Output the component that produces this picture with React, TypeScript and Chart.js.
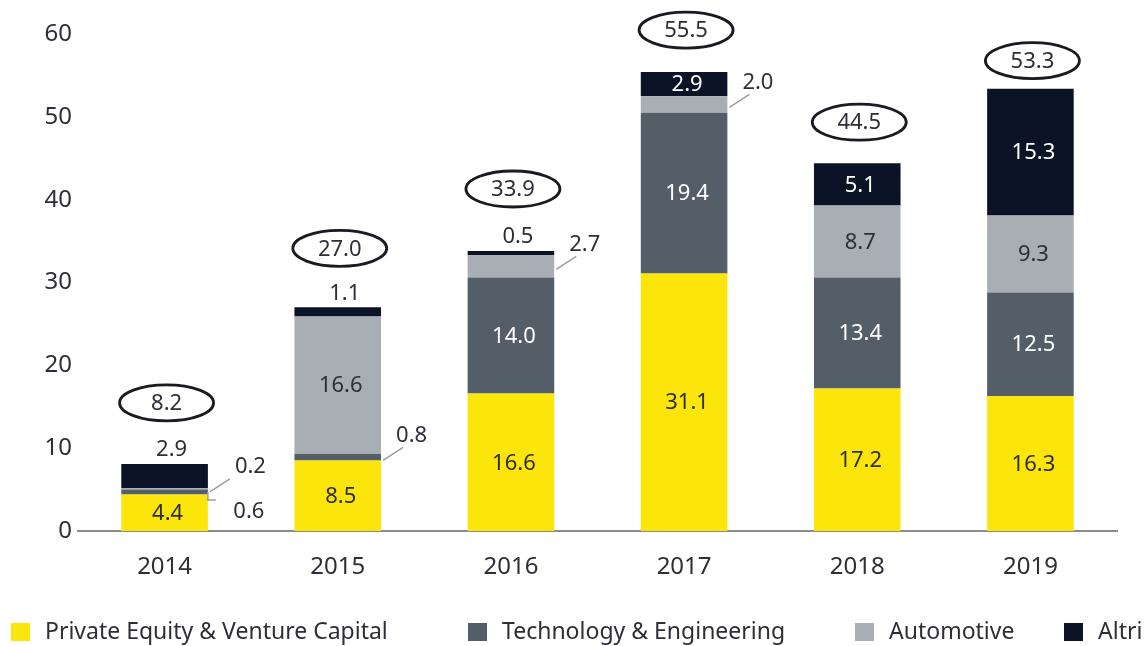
import React, { useEffect, useRef } from 'react';
import { Chart, registerables } from 'chart.js';

Chart.register(...registerables);

const years = ['2014', '2015', '2016', '2017', '2018', '2019'];
const seriesNames = ['Private Equity & Venture Capital', 'Technology & Engineering', 'Automotive', 'Altri'];
const privateEquity = [4.4, 8.5, 16.6, 31.1, 17.2, 16.3];
const techEng = [0.6, 0.8, 14.0, 19.4, 13.4, 12.5];
const automotive = [0.2, 16.6, 2.7, 2.0, 8.7, 9.3];
const altri = [2.9, 1.1, 0.5, 2.9, 5.1, 15.3];
const totals = [8.2, 27.0, 33.9, 55.5, 44.5, 53.3];
const yTicks = [0, 10, 20, 30, 40, 50, 60];

const FONT = '"Noto Sans", sans-serif';
const DARK = '#2e2e38';
const COLORS = ['#FBE50B', '#545E69', '#A8AEB4', '#0A1426'];
const TEXT_ON = [DARK, '#ffffff', DARK, '#ffffff'];

// which small segments are labelled outside the bar, and how
const callouts: { ds: number; i: number; kind: 'diag' | 'elbow' | 'top'; dx?: number }[] = [
  { ds: 2, i: 0, kind: 'diag', dx: 12 },
  { ds: 1, i: 0, kind: 'elbow' },
  { ds: 3, i: 0, kind: 'top' },
  { ds: 1, i: 1, kind: 'diag' },
  { ds: 3, i: 1, kind: 'top' },
  { ds: 2, i: 2, kind: 'diag' },
  { ds: 3, i: 2, kind: 'top' },
  { ds: 2, i: 3, kind: 'diag' },
];
const ellipseLift = [61, 59, 62, 42, 41, 28];

const labelsPlugin = {
  id: 'segLabels',
  afterDatasetsDraw(chart: any) {
    const ctx = chart.ctx;
    ctx.save();
    ctx.textBaseline = 'middle';
    ctx.font = `22px ${FONT}`;
    chart.data.datasets.forEach((ds: any, d: number) => {
      const meta = chart.getDatasetMeta(d);
      meta.data.forEach((el: any, i: number) => {
        const v = ds.data[i];
        const txt = v.toFixed(1);
        const top = Math.min(el.y, el.base);
        const bot = Math.max(el.y, el.base);
        const yc = (top + bot) / 2;
        const right = el.x + el.width / 2;
        const co = callouts.find((c) => c.ds === d && c.i === i);
        if (!co) {
          ctx.fillStyle = TEXT_ON[d];
          ctx.textAlign = 'center';
          ctx.fillText(txt, el.x + 3, yc + 1);
          return;
        }
        ctx.fillStyle = DARK;
        ctx.strokeStyle = '#9a9ea4';
        ctx.lineWidth = 1.5;
        if (co.kind === 'top') {
          ctx.textAlign = 'center';
          ctx.fillText(txt, el.x + 7, top - 14);
        } else if (co.kind === 'diag') {
          ctx.beginPath();
          ctx.moveTo(right + 2, yc + 3);
          ctx.lineTo(right + 22, yc - 10);
          ctx.stroke();
          ctx.textAlign = 'left';
          ctx.fillText(txt, right + 15 + (co.dx || 0), yc - 22);
        } else {
          ctx.beginPath();
          ctx.moveTo(right, yc);
          ctx.lineTo(right, yc + 8);
          ctx.lineTo(right + 8, yc + 8);
          ctx.stroke();
          ctx.textAlign = 'center';
          ctx.fillText(txt, right + 41, yc + 20);
        }
      });
    });
    // totals in ellipses
    const lastMeta = chart.getDatasetMeta(chart.data.datasets.length - 1);
    lastMeta.data.forEach((el: any, i: number) => {
      const top = Math.min(el.y, el.base);
      const cx = el.x + 2;
      const cy = top - ellipseLift[i];
      ctx.beginPath();
      ctx.ellipse(cx, cy, 47, 18, 0, 0, Math.PI * 2);
      ctx.lineWidth = 2.8;
      ctx.strokeStyle = '#1a1a22';
      ctx.stroke();
      ctx.fillStyle = DARK;
      ctx.textAlign = 'center';
      ctx.fillText(totals[i].toFixed(1), cx, cy + 1);
    });
    ctx.restore();
  },
};

const legendX = [11, 468, 855, 1064];
const legendPlugin = {
  id: 'customLegend',
  afterDraw(chart: any) {
    const ctx = chart.ctx;
    ctx.save();
    ctx.font = `23px ${FONT}`;
    ctx.textBaseline = 'middle';
    ctx.textAlign = 'left';
    chart.data.datasets.forEach((ds: any, d: number) => {
      const x = legendX[d];
      ctx.fillStyle = ds.backgroundColor;
      ctx.fillRect(x, 623, 19, 18);
      ctx.fillStyle = DARK;
      ctx.fillText(ds.label, x + 34, 632);
    });
    ctx.restore();
  },
};

export default function App() {
  const ref = useRef<HTMLCanvasElement>(null);
  useEffect(() => {
    document.body.style.margin = '0';
    const values = [privateEquity, techEng, automotive, altri];
    const chart = new Chart(ref.current as HTMLCanvasElement, {
      type: 'bar',
      data: {
        labels: years,
        datasets: values.map((arr, d) => ({
          label: seriesNames[d],
          data: arr,
          backgroundColor: COLORS[d],
          borderWidth: 0,
          barPercentage: 1,
          categoryPercentage: 0.5,
        })),
      },
      options: {
        animation: false,
        responsive: false,
        layout: { padding: { top: 34, right: 31, bottom: 55, left: 0 } },
        plugins: { legend: { display: false }, tooltip: { enabled: false } },
        scales: {
          x: {
            stacked: true,
            grid: { display: false, drawTicks: false },
            border: { display: true, color: '#8c8c8c', width: 2 },
            ticks: { color: DARK, font: { family: FONT, size: 24 }, padding: 22 },
            afterFit: (s: any) => { s.height = 60; },
          },
          y: {
            stacked: true,
            min: 0,
            max: 60,
            grid: { display: false, drawTicks: false },
            border: { display: false },
            ticks: { color: DARK, font: { family: FONT, size: 24 }, padding: 6 },
            afterBuildTicks: (s: any) => { s.ticks = yTicks.map((v) => ({ value: v })); },
            afterFit: (s: any) => { s.width = 78; },
          },
        },
      },
      plugins: [labelsPlugin, legendPlugin],
    });
    return () => chart.destroy();
  }, []);
  return (
    <div style={{ width: 1148, height: 646 }}>
      <canvas ref={ref} width={1148} height={646} />
    </div>
  );
}
